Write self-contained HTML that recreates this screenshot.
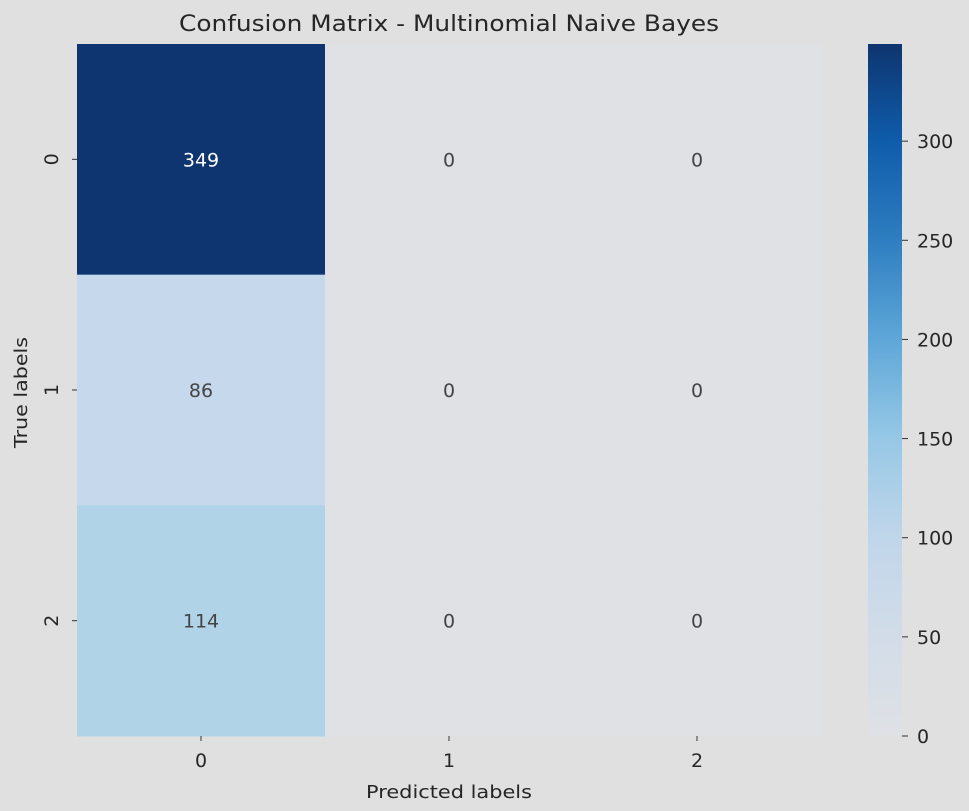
<!DOCTYPE html>
<html><head><meta charset="utf-8"><style>
body{margin:0;background:#e0e0e0;}
svg{display:block;font-family:"DejaVu Sans","Liberation Sans",sans-serif;}
</style></head><body>
<svg id="chart" width="969" height="811">
<defs>
<linearGradient id="cbgrad" x1="0" y1="1" x2="0" y2="0">
<stop offset="0" stop-color="#dfe1e5"/>
<stop offset="0.143" stop-color="#d2dce8"/>
<stop offset="0.287" stop-color="#c0d6ea"/>
<stop offset="0.43" stop-color="#96c8e6"/>
<stop offset="0.573" stop-color="#5ea7d8"/>
<stop offset="0.716" stop-color="#2e7ec1"/>
<stop offset="0.86" stop-color="#0f5cab"/>
<stop offset="1" stop-color="#0e356f"/>
</linearGradient>
</defs>
<rect width="969" height="811" fill="#e0e0e0"/>
<text x="179" y="31" font-size="22" fill="#262626" textLength="540" lengthAdjust="spacingAndGlyphs">Confusion Matrix - Multinomial Naive Bayes</text>
<g id="cells"></g>
<rect x="868" y="44" width="34" height="692" fill="url(#cbgrad)"/>
<g id="cbticks"></g>
<text x="366" y="798" font-size="18" fill="#262626" textLength="166" lengthAdjust="spacingAndGlyphs">Predicted labels</text>
<text transform="translate(27,448) rotate(-90)" font-size="18" fill="#262626" textLength="111" lengthAdjust="spacingAndGlyphs">True labels</text>
</svg>
<script>
const classes = ["0","1","2"];
const row0 = [349,0,0];
const row1 = [86,0,0];
const row2 = [114,0,0];
const matrix = [row0,row1,row2];
const cbTicks = [0,50,100,150,200,250,300];
const vmax = 349;
const NS="http://www.w3.org/2000/svg";
const L=77,T=44,W=744,H=692;
const cw=W/classes.length, ch=H/classes.length;
const stops=[[0,[223,225,229]],[50,[210,220,232]],[86,[197,216,236]],[114,[176,211,232]],[150,[150,200,230]],[200,[94,167,216]],[250,[46,126,193]],[300,[15,92,171]],[349,[14,53,111]]];
function color(v){
  const t=v/vmax*349;
  for(let i=1;i<stops.length;i++){
    if(t<=stops[i][0]){const a=stops[i-1],b=stops[i];const f=(t-a[0])/(b[0]-a[0]);
      const c=a[1].map((x,k)=>Math.round(x+(b[1][k]-x)*f));return `rgb(${c})`;}
  }
  return "rgb(14,53,111)";
}
function xs(i){return L+i*cw;}
function ys(i){return T+i*ch;}
function cy(v){return T+H-v/vmax*H;}
const g=document.getElementById('cells');
const svg=document.getElementById('chart');
matrix.forEach((row,r)=>row.forEach((v,c)=>{
  const rect=document.createElementNS(NS,'rect');
  rect.setAttribute('x',xs(c));rect.setAttribute('y',ys(r));
  rect.setAttribute('width',cw+0.5);rect.setAttribute('height',ch+0.5);
  rect.setAttribute('fill',color(v));
  
  
  g.appendChild(rect);
  const t=document.createElementNS(NS,'text');
  t.setAttribute('x',xs(c)+cw/2);t.setAttribute('y',ys(r)+ch/2+7);
  t.setAttribute('text-anchor','middle');t.setAttribute('font-size','19');
  t.setAttribute('fill',v>vmax*0.5?'#ffffff':'#444444');
  t.textContent=v;
  
  
  g.appendChild(t);
}));
classes.forEach((c,i)=>{
  const tk=document.createElementNS(NS,'line');
  tk.setAttribute('x1',xs(i)+cw/2);tk.setAttribute('x2',xs(i)+cw/2);
  tk.setAttribute('y1',T+H);tk.setAttribute('y2',T+H+5);tk.setAttribute('stroke','#333');
  
  
  svg.appendChild(tk);
  const t=document.createElementNS(NS,'text');
  t.setAttribute('x',xs(i)+cw/2);t.setAttribute('y',T+H+31);
  t.setAttribute('text-anchor','middle');t.setAttribute('font-size','19');t.setAttribute('fill','#262626');
  t.textContent=c;
  
  
  svg.appendChild(t);
  const yk=document.createElementNS(NS,'line');
  yk.setAttribute('x1',L-5);yk.setAttribute('x2',L);
  yk.setAttribute('y1',ys(i)+ch/2);yk.setAttribute('y2',ys(i)+ch/2);yk.setAttribute('stroke','#333');
  
  
  svg.appendChild(yk);
  const yt=document.createElementNS(NS,'text');
  yt.setAttribute('transform',`translate(58,${ys(i)+ch/2}) rotate(-90)`);
  yt.setAttribute('text-anchor','middle');yt.setAttribute('font-size','19');yt.setAttribute('fill','#262626');
  yt.textContent=c;
  
  
  svg.appendChild(yt);
});
const cb=document.getElementById('cbticks');
cbTicks.forEach(v=>{
  const y=cy(v);
  const l=document.createElementNS(NS,'line');
  l.setAttribute('x1',902);l.setAttribute('x2',908);l.setAttribute('y1',y);l.setAttribute('y2',y);l.setAttribute('stroke','#333');
  
  
  cb.appendChild(l);
  const t=document.createElementNS(NS,'text');
  t.setAttribute('x',917);t.setAttribute('y',y+7);t.setAttribute('font-size','19');t.setAttribute('fill','#262626');
  t.textContent=v;
  
  
  cb.appendChild(t);
});
</script>
</body></html>
